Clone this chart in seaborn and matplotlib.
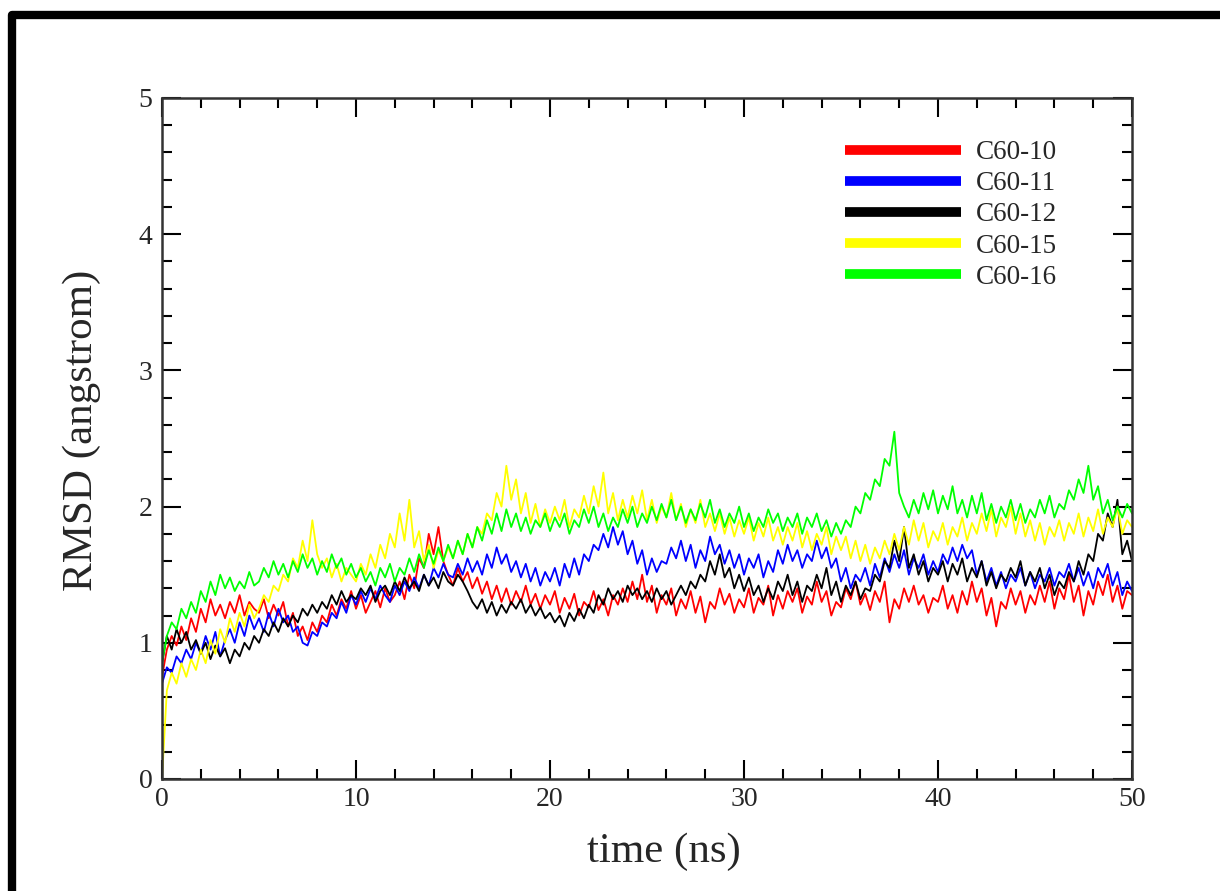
import numpy as np
import pandas as pd
import matplotlib
matplotlib.use("Agg")
import matplotlib.pyplot as plt
from matplotlib.lines import Line2D
from matplotlib.ticker import MultipleLocator
import seaborn as sns

# ---------------- data (0.25 ns spacing) ----------------
time_ns = np.linspace(0, 50, 201)

labels = ["C60-10", "C60-11", "C60-12", "C60-15", "C60-16"]
colors = ["#ff0000", "#0000ff", "#000000", "#ffff00", "#00ff00"]

rmsd_c60_10 = [
    0.75, 0.95, 1.05, 0.98, 1.12, 1.02, 1.18, 1.08, 1.25, 1.15, 1.32, 1.2, 1.28, 1.18, 1.3, 1.22, 1.35, 1.2, 1.3, 1.25,
    1.22, 1.32, 1.18, 1.28, 1.2, 1.3, 1.12, 1.22, 1.05, 1.12, 1.02, 1.15, 1.08, 1.2, 1.15, 1.28, 1.2, 1.32, 1.25, 1.38,
    1.25, 1.35, 1.22, 1.3, 1.38, 1.26, 1.4, 1.3, 1.35, 1.45, 1.32, 1.5, 1.4, 1.62, 1.55, 1.8, 1.65, 1.85, 1.6, 1.5,
    1.42, 1.55, 1.45, 1.52, 1.4, 1.48, 1.36, 1.45, 1.32, 1.42, 1.3, 1.4, 1.28, 1.38, 1.3, 1.42, 1.28, 1.36, 1.25, 1.35,
    1.28, 1.38, 1.22, 1.33, 1.25, 1.36, 1.2, 1.3, 1.26, 1.38, 1.24, 1.32, 1.2, 1.35, 1.28, 1.4, 1.3, 1.45, 1.32, 1.5,
    1.3, 1.42, 1.22, 1.35, 1.28, 1.4, 1.2, 1.32, 1.25, 1.38, 1.22, 1.34, 1.15, 1.3, 1.25, 1.4, 1.28, 1.36, 1.22, 1.32,
    1.26, 1.4, 1.22, 1.33, 1.28, 1.42, 1.2, 1.35, 1.25, 1.38, 1.3, 1.4, 1.22, 1.34, 1.28, 1.45, 1.3, 1.38, 1.2, 1.3,
    1.26, 1.4, 1.32, 1.45, 1.28, 1.36, 1.24, 1.38, 1.3, 1.45, 1.15, 1.32, 1.25, 1.4, 1.3, 1.42, 1.28, 1.35, 1.22, 1.33,
    1.3, 1.42, 1.25, 1.35, 1.22, 1.38, 1.28, 1.45, 1.3, 1.4, 1.2, 1.33, 1.12, 1.3, 1.25, 1.4, 1.28, 1.38, 1.22, 1.35,
    1.28, 1.42, 1.3, 1.45, 1.25, 1.4, 1.32, 1.5, 1.3, 1.42, 1.2, 1.38, 1.28, 1.45, 1.35, 1.5, 1.3, 1.42, 1.25, 1.38,
    1.35,
]

rmsd_c60_11 = [
    0.7, 0.82, 0.78, 0.9, 0.85, 0.95, 0.88, 1.0, 0.92, 1.05, 0.95, 1.08, 0.9, 1.02, 1.1, 1.0, 1.15, 1.05, 1.2, 1.1,
    1.18, 1.08, 1.22, 1.12, 1.25, 1.15, 1.2, 1.08, 1.12, 1.0, 0.98, 1.08, 1.05, 1.15, 1.12, 1.22, 1.18, 1.3, 1.22, 1.35,
    1.28, 1.38, 1.3, 1.4, 1.32, 1.42, 1.35, 1.3, 1.42, 1.35, 1.45, 1.38, 1.48, 1.4, 1.5, 1.42, 1.55, 1.48, 1.58, 1.5,
    1.48, 1.58, 1.5, 1.62, 1.52, 1.6, 1.5, 1.65, 1.55, 1.7, 1.58, 1.65, 1.52, 1.6, 1.48, 1.58, 1.45, 1.55, 1.42, 1.52,
    1.45, 1.55, 1.42, 1.58, 1.48, 1.62, 1.5, 1.65, 1.6, 1.72, 1.68, 1.8, 1.7, 1.85, 1.72, 1.82, 1.65, 1.75, 1.58, 1.68,
    1.5, 1.62, 1.52, 1.6, 1.58, 1.7, 1.62, 1.75, 1.6, 1.72, 1.55, 1.68, 1.6, 1.78, 1.65, 1.72, 1.58, 1.68, 1.55, 1.65,
    1.5, 1.62, 1.55, 1.65, 1.48, 1.6, 1.52, 1.68, 1.58, 1.72, 1.6, 1.68, 1.55, 1.65, 1.6, 1.75, 1.62, 1.7, 1.55, 1.62,
    1.45, 1.55, 1.4, 1.5, 1.45, 1.55, 1.42, 1.58, 1.48, 1.62, 1.52, 1.65, 1.55, 1.68, 1.5, 1.62, 1.55, 1.65, 1.5, 1.6,
    1.52, 1.65, 1.58, 1.7, 1.6, 1.72, 1.62, 1.68, 1.5, 1.6, 1.45, 1.55, 1.42, 1.52, 1.4, 1.5, 1.45, 1.55, 1.42, 1.52,
    1.4, 1.5, 1.45, 1.55, 1.42, 1.52, 1.48, 1.58, 1.45, 1.55, 1.42, 1.52, 1.4, 1.55, 1.48, 1.58, 1.42, 1.52, 1.35, 1.45,
    1.38,
]

rmsd_c60_12 = [
    0.85, 1.05, 0.95, 1.1, 1.0, 1.08, 0.95, 1.02, 0.92, 1.0, 0.88, 0.98, 0.9, 0.96, 0.85, 0.95, 0.9, 1.0, 0.95, 1.05,
    1.0, 1.1, 1.05, 1.15, 1.08, 1.18, 1.12, 1.2, 1.15, 1.25, 1.2, 1.28, 1.22, 1.3, 1.25, 1.35, 1.28, 1.38, 1.3, 1.35,
    1.32, 1.4, 1.35, 1.42, 1.3, 1.38, 1.42, 1.35, 1.45, 1.38, 1.48, 1.4, 1.45, 1.38, 1.5, 1.42, 1.48, 1.4, 1.52, 1.45,
    1.42, 1.5, 1.45, 1.38, 1.3, 1.25, 1.32, 1.22, 1.3, 1.2, 1.28, 1.22, 1.3, 1.25, 1.32, 1.22, 1.28, 1.2, 1.26, 1.18,
    1.22, 1.15, 1.2, 1.12, 1.22, 1.16, 1.25, 1.18, 1.28, 1.22, 1.35, 1.28, 1.4, 1.32, 1.38, 1.3, 1.42, 1.35, 1.4, 1.32,
    1.38, 1.3, 1.4, 1.32, 1.38, 1.28, 1.35, 1.42, 1.35, 1.45, 1.4, 1.5, 1.45, 1.6, 1.5, 1.65, 1.48, 1.55, 1.4, 1.5,
    1.38, 1.48, 1.35, 1.42, 1.3, 1.4, 1.32, 1.45, 1.38, 1.5, 1.35, 1.45, 1.3, 1.42, 1.38, 1.5, 1.4, 1.55, 1.35, 1.45,
    1.3, 1.42, 1.35, 1.45, 1.32, 1.4, 1.38, 1.5, 1.45, 1.6, 1.55, 1.75, 1.6, 1.85, 1.55, 1.65, 1.5, 1.6, 1.45, 1.55,
    1.5, 1.6, 1.45, 1.58, 1.5, 1.62, 1.45, 1.55, 1.48, 1.6, 1.42, 1.52, 1.4, 1.5, 1.45, 1.55, 1.48, 1.6, 1.42, 1.52,
    1.45, 1.55, 1.4, 1.5, 1.35, 1.45, 1.4, 1.52, 1.45, 1.6, 1.5, 1.65, 1.6, 1.8, 1.75, 1.95, 1.85, 2.05, 1.65, 1.75,
    1.6,
]

rmsd_c60_15 = [
    0.0, 0.65, 0.78, 0.7, 0.85, 0.75, 0.88, 0.8, 0.95, 0.85, 1.02, 0.92, 1.1, 1.0, 1.18, 1.08, 1.22, 1.12, 1.28, 1.18,
    1.25, 1.35, 1.3, 1.42, 1.38, 1.5, 1.45, 1.62, 1.55, 1.75, 1.6, 1.9, 1.65, 1.55, 1.62, 1.48, 1.58, 1.45, 1.55, 1.5,
    1.45, 1.58, 1.5, 1.65, 1.55, 1.72, 1.62, 1.8, 1.7, 1.95, 1.75, 2.05, 1.7, 1.82, 1.6, 1.72, 1.55, 1.68, 1.6, 1.7,
    1.62, 1.75, 1.65, 1.8, 1.7, 1.85, 1.8, 1.95, 1.9, 2.1, 2.0, 2.3, 2.05, 2.2, 1.95, 2.1, 1.88, 2.02, 1.85, 1.98,
    1.88, 2.0, 1.9, 2.05, 1.85, 1.98, 1.92, 2.08, 1.95, 2.15, 2.0, 2.25, 1.95, 2.1, 1.9, 2.05, 1.92, 2.08, 1.95, 2.12,
    1.9, 2.05, 1.88, 2.0, 1.92, 2.1, 1.9, 2.02, 1.85, 1.98, 1.88, 2.05, 1.85, 1.95, 1.82, 1.95, 1.8, 1.92, 1.78, 1.9,
    1.8, 1.92, 1.75, 1.88, 1.78, 1.92, 1.75, 1.85, 1.72, 1.85, 1.75, 1.88, 1.7, 1.82, 1.68, 1.8, 1.72, 1.85, 1.65, 1.78,
    1.68, 1.78, 1.62, 1.75, 1.6, 1.72, 1.58, 1.7, 1.62, 1.75, 1.65, 1.8, 1.68, 1.85, 1.72, 1.9, 1.75, 1.88, 1.7, 1.82,
    1.75, 1.88, 1.72, 1.85, 1.78, 1.92, 1.75, 1.88, 1.8, 1.95, 1.82, 1.98, 1.78, 1.92, 1.85, 2.0, 1.8, 1.95, 1.78, 1.9,
    1.75, 1.88, 1.72, 1.85, 1.78, 1.9, 1.75, 1.88, 1.8, 1.95, 1.78, 1.92, 1.82, 1.98, 1.8, 1.92, 1.85, 2.0, 1.8, 1.9,
    1.85,
]

rmsd_c60_16 = [
    0.85, 1.05, 1.15, 1.1, 1.25, 1.18, 1.3, 1.22, 1.38, 1.3, 1.45, 1.35, 1.5, 1.4, 1.48, 1.38, 1.45, 1.4, 1.52, 1.42,
    1.45, 1.55, 1.48, 1.6, 1.5, 1.58, 1.48, 1.6, 1.52, 1.65, 1.55, 1.62, 1.5, 1.6, 1.52, 1.65, 1.55, 1.62, 1.5, 1.58,
    1.48, 1.55, 1.45, 1.52, 1.42, 1.55, 1.48, 1.58, 1.45, 1.55, 1.5, 1.62, 1.52, 1.65, 1.55, 1.68, 1.58, 1.7, 1.6, 1.72,
    1.62, 1.75, 1.65, 1.8, 1.7, 1.85, 1.75, 1.9, 1.8, 1.95, 1.82, 1.98, 1.85, 1.95, 1.82, 1.92, 1.8, 1.9, 1.85, 1.95,
    1.82, 1.92, 1.85, 1.95, 1.8, 1.9, 1.85, 1.98, 1.88, 2.0, 1.85, 1.95, 1.82, 1.92, 1.85, 1.98, 1.88, 2.0, 1.85, 1.95,
    1.88, 2.0, 1.9, 2.02, 1.92, 2.05, 1.9, 2.0, 1.88, 1.98, 1.9, 2.02, 1.92, 2.05, 1.88, 1.98, 1.85, 1.95, 1.88, 2.0,
    1.85, 1.95, 1.82, 1.92, 1.85, 1.98, 1.88, 1.95, 1.82, 1.92, 1.85, 1.95, 1.8, 1.92, 1.85, 1.95, 1.82, 1.9, 1.78, 1.88,
    1.8, 1.9, 1.85, 2.0, 1.95, 2.1, 2.05, 2.2, 2.15, 2.35, 2.3, 2.55, 2.1, 2.0, 1.92, 2.05, 1.95, 2.1, 1.98, 2.12,
    1.95, 2.08, 1.98, 2.15, 1.95, 2.05, 1.92, 2.08, 1.95, 2.1, 1.9, 2.02, 1.88, 2.0, 1.92, 2.05, 1.9, 2.02, 1.88, 1.98,
    1.92, 2.05, 1.95, 2.08, 1.92, 2.02, 1.98, 2.12, 2.05, 2.2, 2.1, 2.3, 2.05, 2.15, 1.95, 2.05, 1.9, 2.0, 1.92, 2.02,
    1.95,
]

x_ticks = [0, 10, 20, 30, 40, 50]
y_ticks = [0, 1, 2, 3, 4, 5]
x_label = "time (ns)"
y_label = "RMSD (angstrom)"

# ---------------- build long-form table ----------------
series = [rmsd_c60_10, rmsd_c60_11, rmsd_c60_12, rmsd_c60_15, rmsd_c60_16]
frames = []
for lab, vals in zip(labels, series):
    frames.append(pd.DataFrame({"time": time_ns, "rmsd": vals, "set": lab}))
df = pd.concat(frames, ignore_index=True)

# ---------------- styling ----------------
sns.set_style("ticks")
plt.rcParams["font.family"] = ["Liberation Serif", "DejaVu Serif"]
plt.rcParams["axes.linewidth"] = 1.5

fig = plt.figure(figsize=(12.2, 8.91), dpi=100)
ax = fig.add_axes([162 / 1220, 1 - 779 / 891, (1132 - 162) / 1220, (779 - 98) / 891])

sns.lineplot(
    data=df, x="time", y="rmsd", hue="set", hue_order=labels,
    palette=dict(zip(labels, colors)), estimator=None, sort=False,
    linewidth=1.3, ax=ax, legend=True,
)

ax.set_xlim(0, 50)
ax.set_ylim(0, 5)
ax.set_xticks(x_ticks)
ax.set_yticks(y_ticks)
ax.set_xticklabels([str(v) for v in x_ticks])
ax.set_yticklabels([str(v) for v in y_ticks])
ax.xaxis.set_minor_locator(MultipleLocator(2))
ax.yaxis.set_minor_locator(MultipleLocator(0.2))
ax.tick_params(which="both", direction="in", top=True, right=True,
               width=1.5, color="black", labelsize=20)
ax.tick_params(which="major", length=14)
ax.tick_params(which="minor", length=7)
ax.tick_params(axis="y", pad=7)
ax.tick_params(axis="x", pad=6)
for sp in ax.spines.values():
    sp.set_color("#333333")
    sp.set_linewidth(1.8)

ax.set_xlabel(x_label, fontsize=31)
ax.set_ylabel(y_label, fontsize=31)
ax.xaxis.set_label_coords((664 - 162) / 970, -(852 - 779) / 681)
ax.xaxis.label.set_va("center")
ax.yaxis.set_label_coords(-(162 - 82) / 970, (779 - 430) / 681)
ax.yaxis.label.set_va("center")

handles, labs = ax.get_legend_handles_labels()
leg = ax.legend(
    handles, labs, loc="upper left", bbox_to_anchor=(0.704, 0.938),
    frameon=False, fontsize=19.5, handlelength=4.3, handletextpad=0.55,
    labelspacing=0.225, borderpad=0, borderaxespad=0,
)
for ln in leg.get_lines():
    ln.set_linewidth(7)
    ln.set_solid_capstyle("butt")

# thick frame line at top-left of the page (as in the reference)
frame = Line2D([12 / 1220, 12 / 1220, 1.02], [-0.02, 1 - 15 / 891, 1 - 15 / 891],
               transform=fig.transFigure, color="black", linewidth=6,
               solid_joinstyle="round", solid_capstyle="butt")
fig.add_artist(frame)

fig.savefig("out.png", dpi=100, facecolor="white")
